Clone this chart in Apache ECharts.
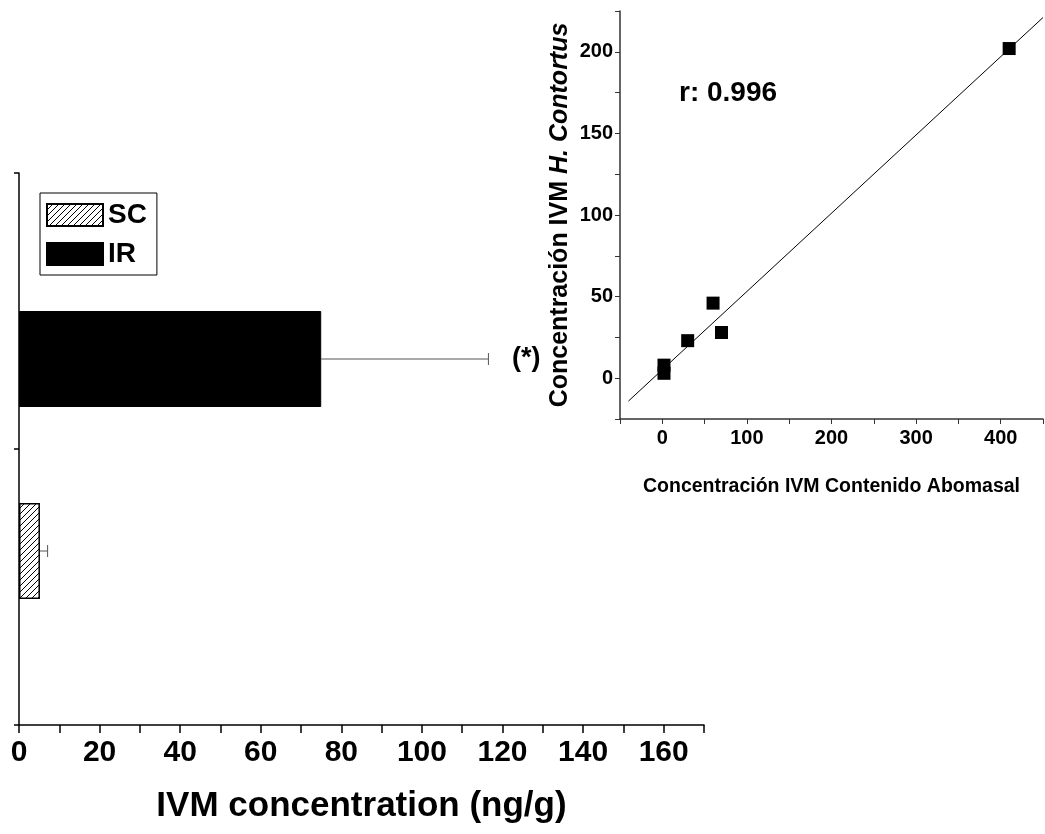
<!DOCTYPE html>
<html><head><meta charset="utf-8">
<script src="https://cdn.jsdelivr.net/npm/echarts@6/dist/echarts.min.js"></script>
<style>html,body{margin:0;padding:0;background:#fff}#c{width:1045px;height:834px}</style>
</head><body><div id="c"></div>
<script>
// ---- Bar chart data ----
const groups = ['SC', 'IR'];
const means = [5.2, 75];
const errors = [1.9, 41.5];
const barTicks = [0,10,20,30,40,50,60,70,80,90,100,110,120,130,140,150,160,170];
const barLabels = [0,20,40,60,80,100,120,140,160];
// ---- Scatter data ----
const abomasal = [2, 2, 30, 60, 70, 410];
const contortus = [8, 3, 23, 46, 28, 202];
const fitX = [-40, 450];
const fitY = [-14, 221];
const scXTicks = [-50,0,50,100,150,200,250,300,350,400,450];
const scXLabels = [0,100,200,300,400];
const scYTicks = [-25,0,25,50,75,100,125,150,175,200,225];
const scYLabels = [0,50,100,150,200];

const FONT = "'Liberation Sans',Arial,sans-serif";

function hatch(){
  const c = document.createElement('canvas');
  c.width = 6; c.height = 6;
  const g = c.getContext('2d');
  g.fillStyle = '#fff'; g.fillRect(0,0,6,6);
  g.strokeStyle = '#000'; g.lineWidth = 1;
  g.beginPath();
  g.moveTo(-1,7); g.lineTo(7,-1);
  g.moveTo(-1,1); g.lineTo(1,-1);
  g.moveTo(5,7); g.lineTo(7,5);
  g.stroke();
  return c;
}
const hatchPattern = {image: hatch(), repeat: 'repeat'};

const chart = echarts.init(document.getElementById('c'), null, {renderer: 'canvas'});

const errData = groups.map((g, i) => [means[i], i, errors[i]]);

const option = {
  animation: false,
  backgroundColor: '#fff',
  grid: [
    {left: 19, top: 173, width: 685, height: 552, outerBoundsMode: 'none'},
    {left: 19, top: 263, width: 685, height: 384, outerBoundsMode: 'none'},
    {left: 620, top: 11, width: 423, height: 408, outerBoundsMode: 'none'}
  ],
  legend: {
    data: ['SC', 'IR'],
    orient: 'vertical',
    left: 40, top: 193,
    borderColor: '#000', borderWidth: 1,
    padding: [8, 10, 7, 6],
    itemWidth: 56, itemHeight: 22, itemGap: 11,
    textStyle: {fontFamily: FONT, fontWeight: 'bold', fontSize: 28, color: '#000'},
    icon: 'rect'
  },
  xAxis: [
    {gridIndex: 0, type: 'value', min: 0, max: 170,
      axisLine: {lineStyle: {color: '#000', width: 1.5}},
      axisTick: {customValues: barTicks, length: 8, lineStyle: {color: '#000', width: 1.5}},
      axisLabel: {customValues: barLabels, fontFamily: FONT, fontWeight: 'bold', fontSize: 30, color: '#000', margin: 13},
      splitLine: {show: false},
      name: 'IVM concentration (ng/g)', nameLocation: 'middle', nameGap: 64,
      nameTextStyle: {fontFamily: FONT, fontWeight: 'bold', fontSize: 35, color: '#000'}
    },
    {gridIndex: 1, type: 'value', min: 0, max: 170, show: false},
    {gridIndex: 2, type: 'value', min: -50, max: 450,
      axisLine: {onZero: false, lineStyle: {color: '#333', width: 1.5}},
      axisTick: {customValues: scXTicks, length: 5, lineStyle: {color: '#333'}},
      axisLabel: {customValues: scXLabels, fontFamily: FONT, fontWeight: 'bold', fontSize: 20, color: '#000', margin: 9},
      splitLine: {show: false},
      name: 'Concentración IVM Contenido Abomasal', nameLocation: 'middle', nameGap: 58,
      nameTextStyle: {fontFamily: FONT, fontWeight: 'bold', fontSize: 19.5, color: '#000'}
    }
  ],
  yAxis: [
    {gridIndex: 0, type: 'value', min: 0, max: 2, interval: 1,
      axisLine: {lineStyle: {color: '#000', width: 1.5}},
      axisTick: {length: 5, lineStyle: {color: '#000', width: 1.5}},
      axisLabel: {show: false}, splitLine: {show: false}
    },
    {gridIndex: 1, type: 'category', data: groups, show: false},
    {gridIndex: 2, type: 'value', min: -25, max: 225,
      axisLine: {onZero: false, lineStyle: {color: '#333', width: 1.5}},
      axisTick: {customValues: scYTicks, length: 5, lineStyle: {color: '#333'}},
      axisLabel: {customValues: scYLabels, fontFamily: FONT, fontWeight: 'bold', fontSize: 20, color: '#000', margin: 7},
      splitLine: {show: false},
      name: '{a|Concentración IVM }{b|H. Contortus}', nameLocation: 'middle', nameGap: 47, nameRotate: 90,
      nameTextStyle: {rich: {
        a: {fontFamily: FONT, fontWeight: 'bold', fontSize: 25, color: '#000'},
        b: {fontFamily: FONT, fontWeight: 'bold', fontStyle: 'italic', fontSize: 25, color: '#000'}
      }}
    }
  ],
  series: [
    {name: 'SC', type: 'bar', xAxisIndex: 1, yAxisIndex: 1, barWidth: 96, barGap: '-100%',
      data: [means[0], '-'],
      itemStyle: {color: hatchPattern, borderColor: '#000', borderWidth: 1.5}},
    {name: 'IR', type: 'bar', xAxisIndex: 1, yAxisIndex: 1, barWidth: 96, barGap: '-100%',
      data: ['-', means[1]],
      itemStyle: {color: '#000', borderColor: '#000', borderWidth: 1}},
    {type: 'custom', xAxisIndex: 1, yAxisIndex: 1, data: errData, z: 5,
      renderItem: function(params, api){
        const m = api.value(0), c = api.value(1), e = api.value(2);
        const p0 = api.coord([m, c]);
        const p1 = api.coord([m + e, c]);
        const h = 6;
        return {type: 'group', children: [
          {type: 'line', shape: {x1: p0[0], y1: p0[1], x2: p1[0], y2: p1[1]}, style: {stroke: '#555', lineWidth: 1}},
          {type: 'line', shape: {x1: p1[0], y1: p1[1]-h, x2: p1[0], y2: p1[1]+h}, style: {stroke: '#555', lineWidth: 1}}
        ]};
      }
    },
    {type: 'line', xAxisIndex: 2, yAxisIndex: 2, showSymbol: false, symbol: 'none',
      data: fitX.map((x, i) => [x, fitY[i]]),
      lineStyle: {color: '#000', width: 1}},
    {type: 'scatter', xAxisIndex: 2, yAxisIndex: 2, symbol: 'rect', symbolSize: 13,
      data: abomasal.map((x, i) => [x, contortus[i]]),
      itemStyle: {color: '#000', opacity: 1}}
  ],
  graphic: [
    {type: 'text', left: 512, top: 345, style: {text: '(*)', font: "bold 27px " + FONT, fill: '#000'}},
    {type: 'text', left: 679, top: 79, style: {text: 'r: 0.996', font: "bold 28px " + FONT, fill: '#000'}}
  ]
};
chart.setOption(option);
</script>
</body></html>
